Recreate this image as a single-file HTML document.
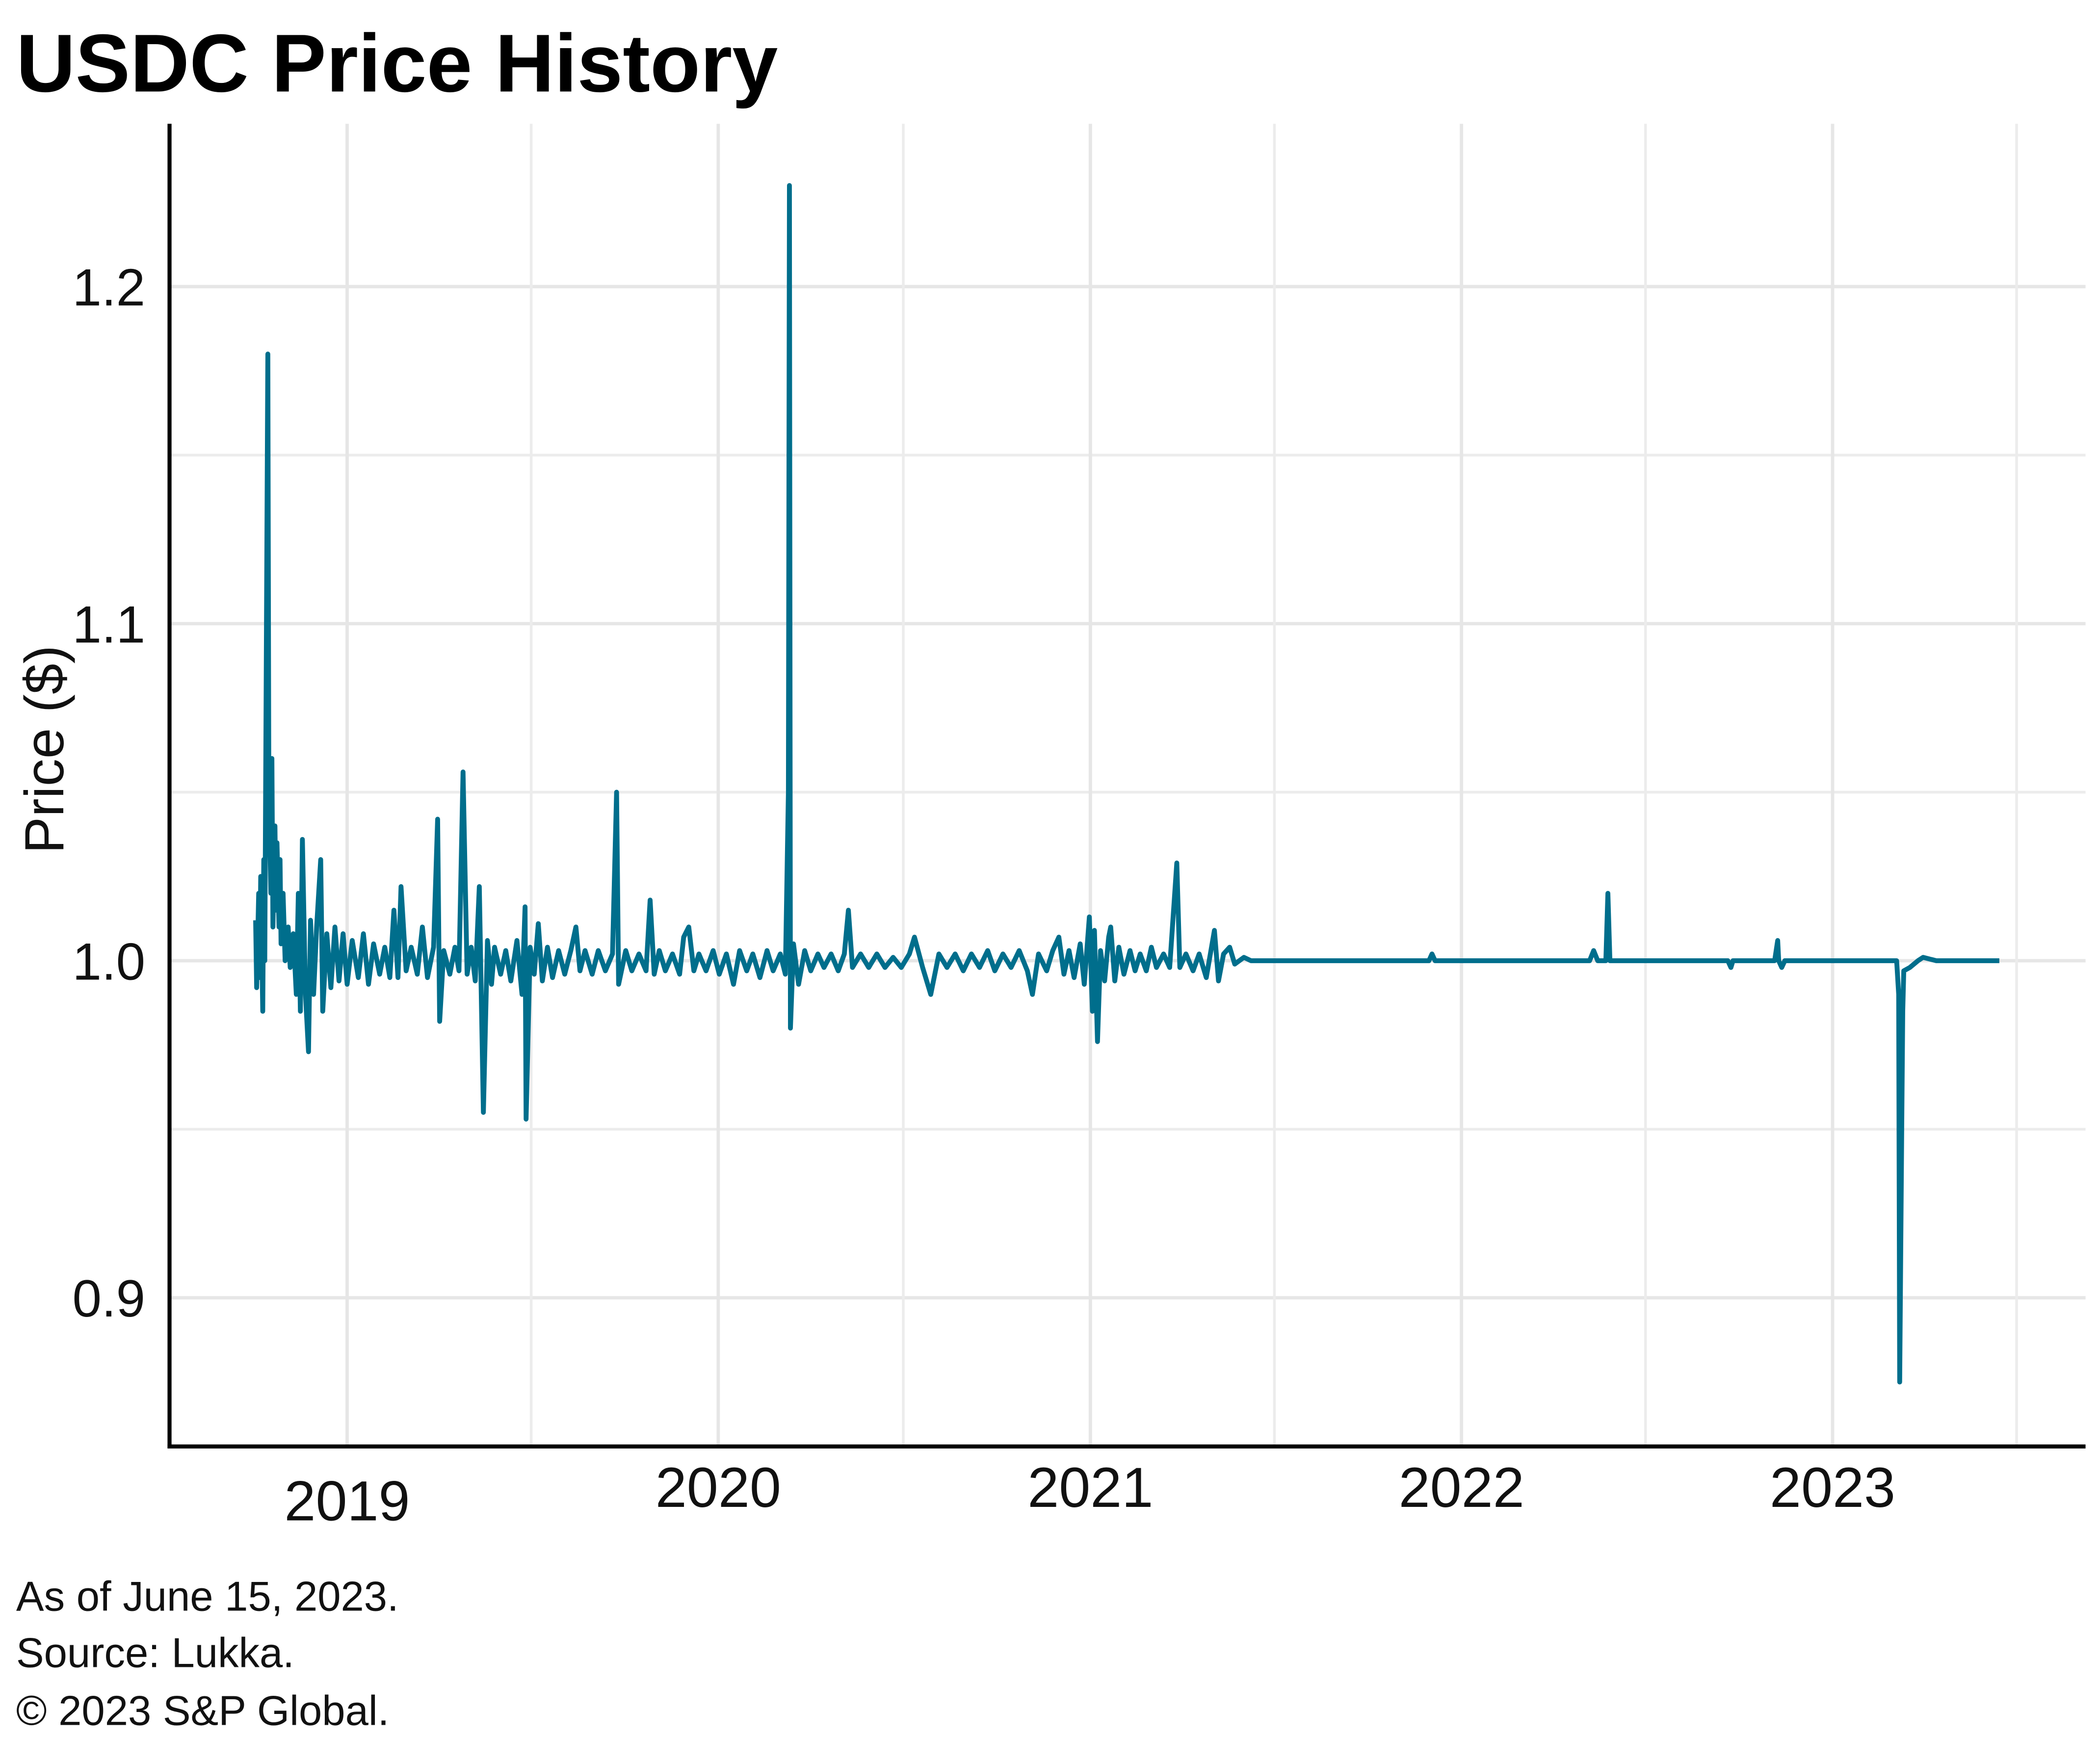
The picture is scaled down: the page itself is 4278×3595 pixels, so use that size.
<!DOCTYPE html>
<html>
<head>
<meta charset="utf-8">
<style>
html,body{margin:0;padding:0;background:#fff;}
svg{display:block;}
text{font-family:"Liberation Sans",sans-serif;fill:#111;}
</style>
</head>
<body>
<svg id="chart" width="4278" height="3595" viewBox="0 0 1560 1311" preserveAspectRatio="none" xmlns="http://www.w3.org/2000/svg">
  <rect x="0" y="0" width="1560" height="1311" fill="#fff"/>
  <text x="12" y="68" font-size="61" font-weight="bold" style="fill:#000">USDC Price History</text>
  <g id="grid"></g>
  <g id="series"></g>
  <g id="axes"></g>
  <text transform="translate(47,557) rotate(-90)" text-anchor="middle" font-size="41">Price ($)</text>
  <text x="12" y="1197" font-size="31">As of June 15, 2023.</text>
  <text x="12" y="1239" font-size="31">Source: Lukka.</text>
  <text x="12" y="1282" font-size="31">© 2023 S&amp;P Global.</text>
</svg>
<script>
// days since 2019-01-01
const days = [-90,-89,-87,-86,-85,-83,-82,-81,-79,-78,-77,-75,-74,-73,-71,-70,-69,-67,-66,-65,-63,-61,-58,-56,-53,-50,-48,-46,-44,-41,-38,-36,-33,-30,-26,-24,-20,-16,-12,-8,-4,0,5,11,16,21,26,32,37,42,46,50,53,58,63,69,74,79,85,89,91,95,101,106,110,114,118,122,126,130,134,138,142,145,151,156,161,167,172,175,176,180,184,188,192,197,202,208,214,220,225,229,234,241,247,254,261,265,267,274,280,287,294,298,302,307,313,320,327,331,336,341,346,353,360,366,373,380,386,393,399,406,413,419,426,431,434,435,436,439,444,450,456,463,469,476,483,489,493,497,505,513,521,529,537,545,553,558,566,574,582,590,598,606,614,622,630,637,645,653,661,669,674,680,688,694,700,705,710,715,721,725,730,733,735,738,741,745,749,751,755,759,764,770,775,780,786,791,796,803,809,816,819,825,832,838,845,853,857,862,868,873,882,889,968,1064,1067,1070,1219,1222,1226,1230,1238,1240,1242,1358,1361,1363,1404,1407,1408,1411,1414,1524,1526,1527,1529,1530,1531,1537,1545,1550,1563,1625];
const prices = [1.012,0.992,1.02,0.995,1.025,0.985,1.03,1.0,1.12,1.18,1.05,1.02,1.06,1.01,1.04,1.015,1.035,1.01,1.03,1.005,1.02,1.0,1.01,0.998,1.008,0.99,1.02,0.985,1.036,0.99,0.973,1.012,0.99,1.01,1.03,0.985,1.008,0.992,1.01,0.994,1.008,0.993,1.006,0.995,1.008,0.993,1.005,0.996,1.004,0.995,1.015,0.995,1.022,0.997,1.004,0.996,1.01,0.995,1.004,1.042,0.982,1.003,0.996,1.004,0.997,1.056,0.996,1.004,0.994,1.022,0.955,1.006,0.993,1.004,0.996,1.003,0.994,1.006,0.99,1.016,0.953,1.004,0.996,1.011,0.994,1.004,0.995,1.003,0.996,1.003,1.01,0.997,1.003,0.996,1.003,0.997,1.002,1.05,0.993,1.003,0.997,1.002,0.997,1.018,0.996,1.003,0.997,1.002,0.996,1.007,1.01,0.997,1.002,0.997,1.003,0.996,1.002,0.993,1.003,0.997,1.002,0.995,1.003,0.997,1.002,0.996,1.05,1.23,0.98,1.005,0.993,1.003,0.997,1.002,0.998,1.002,0.997,1.002,1.015,0.998,1.002,0.998,1.002,0.998,1.001,0.998,1.002,1.007,0.998,0.99,1.002,0.998,1.002,0.997,1.002,0.998,1.003,0.997,1.002,0.998,1.003,0.997,0.99,1.002,0.997,1.003,1.007,0.996,1.003,0.995,1.005,0.993,1.013,0.985,1.009,0.976,1.003,0.994,1.007,1.01,0.994,1.004,0.996,1.003,0.997,1.002,0.997,1.004,0.998,1.002,0.998,1.029,0.998,1.002,0.997,1.002,0.995,1.009,0.994,1.002,1.004,0.999,1.001,1.0,1.0,1.0,1.002,1.0,1.0,1.0,1.003,1.0,1.0,1.02,1.0,1.0,0.998,1.0,1.0,1.006,1.0,0.998,1.0,1.0,0.99,0.875,0.95,0.985,0.997,0.998,1.0,1.001,1.0,1.0];
const yTicks = [0.9, 1.0, 1.1, 1.2];
const yTickLabels = ["0.9", "1.0", "1.1", "1.2"];
const yMinor = [0.95, 1.05, 1.15];
const xTickDays = [0, 365, 731, 1096, 1461];
const xTickLabels = ["2019", "2020", "2021", "2022", "2023"];
const xMinorDays = [181, 547, 912, 1277, 1642];

const NS = "http://www.w3.org/2000/svg";
const X0 = 126, X1 = 1550, Y0 = 92, Y1 = 1075;
function xs(d){ return 258 + d * 276 / 365.25; }
function ys(v){ return 714 - (v - 1.0) * 2505; }
function mk(tag, attrs, parent){
  const e = document.createElementNS(NS, tag);
  for (const k in attrs) e.setAttribute(k, attrs[k]);
  parent.appendChild(e);
  return e;
}
const grid = document.getElementById('grid');
const axes = document.getElementById('axes');
const series = document.getElementById('series');

yMinor.forEach(v => {
  const l = mk('line', {x1:X0, x2:X1, y1:ys(v), y2:ys(v), stroke:'#ececec', 'stroke-width':2}, grid);
  
  
});
yTicks.forEach((v,i) => {
  const l = mk('line', {x1:X0, x2:X1, y1:ys(v), y2:ys(v), stroke:'#e6e6e6', 'stroke-width':2.5}, grid);
  
  
  const t = mk('text', {x:108, y:ys(v)+14, 'text-anchor':'end', 'font-size':39}, axes);
  t.textContent = yTickLabels[i];
  
  
});
xMinorDays.forEach(d => {
  const l = mk('line', {x1:xs(d), x2:xs(d), y1:Y0, y2:Y1, stroke:'#ececec', 'stroke-width':2}, grid);
  
  
});
xTickDays.forEach((d,i) => {
  const l = mk('line', {x1:xs(d), x2:xs(d), y1:Y0, y2:Y1, stroke:'#e6e6e6', 'stroke-width':2.5}, grid);
  
  
  const t = mk('text', {x:xs(d), y:(i===0?1130:1120), 'text-anchor':'middle', 'font-size':42}, axes);
  t.textContent = xTickLabels[i];
  
  
});
const ya = mk('line', {x1:X0, x2:X0, y1:Y0, y2:Y1+1.5, stroke:'#000', 'stroke-width':3}, axes);


const xa = mk('line', {x1:X0-1.5, x2:X1, y1:Y1, y2:Y1, stroke:'#000', 'stroke-width':3}, axes);



let d = '';
days.forEach((dd,i) => { d += (i ? 'L' : 'M') + xs(dd).toFixed(2) + ' ' + ys(prices[i]).toFixed(2); });
const p = mk('path', {d:d, fill:'none', stroke:'#006e8c', 'stroke-width':3.6, 'stroke-linejoin':'round'}, series);


</script>
</body>
</html>
